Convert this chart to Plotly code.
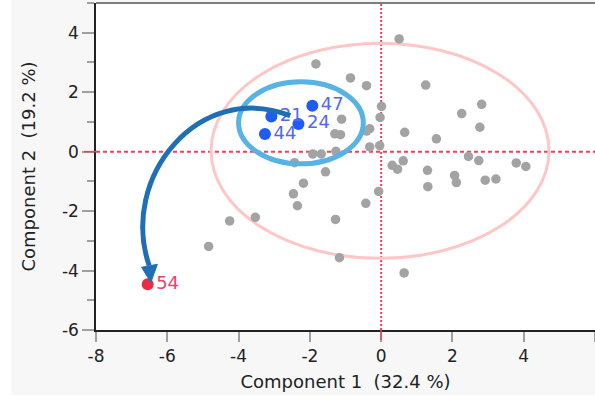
import plotly.graph_objects as go

# ---- data ----
gray_x = [-1.83, 0.505, -0.86, -0.41, 1.25, 0.01, 2.82, -0.03, -1.11, -0.32, -0.41, 2.26,
          2.77, 0.66, 1.55, -1.30, -1.14, -0.32, -0.04, -1.92, -1.68, -1.27, -2.43, -1.56,
          2.45, 2.74, 0.62, 0.31, 0.46, 1.30, 2.06, 2.11, 1.31, 2.92, 3.22, 3.79, 4.06,
          -0.07, -0.43, -2.18, -2.46, -2.35, -1.28, -3.53, -4.25, -4.84, -1.17, 0.645]
gray_y = [2.95, 3.79, 2.48, 2.22, 2.24, 1.52, 1.59, 1.15, 1.09, 0.77, 0.69, 1.28,
          0.82, 0.65, 0.43, 0.60, 0.57, 0.16, 0.20, -0.08, -0.08, 0.01, -0.37, -0.68,
          -0.16, -0.30, -0.31, -0.46, -0.59, -0.63, -0.80, -1.04, -1.18, -0.96, -0.92, -0.38, -0.50,
          -1.34, -1.74, -1.06, -1.42, -1.82, -2.28, -2.21, -2.33, -3.19, -3.57, -4.08]

blue_x = [-1.93, -3.08, -2.32, -3.26]
blue_y = [1.54, 1.18, 0.93, 0.59]
blue_labels = ["47", "21", "24", "44"]

red_x = [-6.55]
red_y = [-4.46]
red_labels = ["54"]

x_ticks = [-8, -6, -4, -2, 0, 2, 4, 6]
y_ticks = [-6, -4, -2, 0, 2, 4]
x_title = "Component 1\u00a0\u00a0(32.4\u00a0%)"
y_title = "Component 2\u00a0\u00a0(19.2\u00a0%)"

# annotation geometry (data units)
pink_ellipse = dict(cx=-0.03, cy=0.03, rx=4.74, ry=3.62)
blue_ellipse = dict(cx=-2.25, cy=0.97, rx=1.75, ry=1.38)
arrow_ctrl = [(-2.55, 1.21), (-5.10, 2.40), (-7.35, -0.85), (-6.51, -3.83)]
arrow_head = [(-6.46, -4.40), (-6.72, -3.89), (-6.28, -3.79)]

FONT = "DejaVu Sans"
W, H = 595, 404
L, R, T, B = 96, 0, 3, 74
PW, PH = W - L - R, H - T - B

fig = go.Figure()
fig.add_trace(go.Scatter(x=gray_x, y=gray_y, mode="markers",
                         marker=dict(size=9.5, color="#A3A3A3"), hoverinfo="skip"))
fig.add_trace(go.Scatter(x=blue_x, y=blue_y, mode="markers+text", text=blue_labels,
                         textposition="middle right",
                         textfont=dict(family=FONT, size=18, color="#4F69EE"),
                         marker=dict(size=12, color="#1F5BF5")))
fig.add_trace(go.Scatter(x=red_x, y=red_y, mode="markers+text", text=red_labels,
                         textposition="middle right",
                         textfont=dict(family=FONT, size=18, color="#EF3F6C"),
                         marker=dict(size=12, color="#EE2A40")))

shapes = []
# pink ellipse (below points)
e = pink_ellipse
shapes.append(dict(type="circle", xref="x", yref="y", layer="below",
                   x0=e["cx"] - e["rx"], x1=e["cx"] + e["rx"],
                   y0=e["cy"] - e["ry"], y1=e["cy"] + e["ry"],
                   line=dict(color="#FFC6C6", width=3)))
# red reference lines
shapes.append(dict(type="line", xref="x", yref="paper", x0=0, x1=0, y0=0, y1=1, layer="below",
                   line=dict(color="#F0405A", width=2, dash="2px,2px")))
shapes.append(dict(type="line", xref="paper", yref="y", x0=0, x1=1, y0=0, y1=0, layer="below",
                   line=dict(color="#F0405A", width=2, dash="4px,3px")))
# red ticks outside
shapes.append(dict(type="line", xref="x", yref="paper", x0=0, x1=0, y0=-10 / PH, y1=0,
                   line=dict(color="#F0405A", width=1.5)))
shapes.append(dict(type="line", xref="paper", yref="y", x0=-12 / PW, x1=0, y0=0, y1=0,
                   line=dict(color="#F0405A", width=1.5)))
# top frame line
shapes.append(dict(type="line", xref="paper", yref="paper", x0=0, x1=1, y0=1, y1=1,
                   line=dict(color="#555555", width=1.5)))
# white strips of the page (left and bottom)
shapes.append(dict(type="rect", xref="paper", yref="paper", layer="below",
                   x0=-L / PW, x1=(11 - L) / PW, y0=-B / PH, y1=(PH + T) / PH,
                   fillcolor="white", line=dict(width=0)))
shapes.append(dict(type="rect", xref="paper", yref="paper", layer="below",
                   x0=-L / PW, x1=1, y0=-B / PH, y1=-(395 - T - PH) / PH,
                   fillcolor="white", line=dict(width=0)))
# blue highlight ellipse
e = blue_ellipse
shapes.append(dict(type="circle", xref="x", yref="y", layer="above",
                   x0=e["cx"] - e["rx"], x1=e["cx"] + e["rx"],
                   y0=e["cy"] - e["ry"], y1=e["cy"] + e["ry"],
                   line=dict(color="#58B3E5", width=5)))
# curved arrow
p = arrow_ctrl
path = "M {},{} C {},{} {},{} {},{}".format(p[0][0], p[0][1], p[1][0], p[1][1],
                                           p[2][0], p[2][1], p[3][0], p[3][1])
shapes.append(dict(type="path", xref="x", yref="y", layer="above", path=path,
                   line=dict(color="#1F6FB6", width=5)))
h = arrow_head
hp = "M {},{} L {},{} L {},{} Z".format(h[0][0], h[0][1], h[1][0], h[1][1], h[2][0], h[2][1])
shapes.append(dict(type="path", xref="x", yref="y", layer="above", path=hp,
                   fillcolor="#1F6FB6", line=dict(color="#1F6FB6", width=1)))

fig.update_layout(
    width=W, height=H, margin=dict(l=L, r=R, t=T, b=B, pad=0, autoexpand=False),
    paper_bgcolor="#F7F7F7", plot_bgcolor="white",
    showlegend=False, shapes=shapes,
    font=dict(family=FONT, color="#222222"),
    xaxis=dict(range=[-8, 6], tickmode="array", tickvals=x_ticks,
               ticktext=[str(v) for v in x_ticks], automargin=False,
               showgrid=False, zeroline=False, showline=True, linecolor="#222222", linewidth=1.5,
               ticks="outside", ticklen=10, tickcolor="#A0A0A0", tickwidth=1.5,
               tickfont=dict(family=FONT, size=17, color="#222222"),
               title=dict(text=x_title, font=dict(family=FONT, size=18, color="#222222"), standoff=10)),
    yaxis=dict(range=[-6, 5], tickmode="array", tickvals=y_ticks,
               ticktext=[str(v) for v in y_ticks], automargin=False,
               showgrid=False, zeroline=False, showline=True, linecolor="#222222", linewidth=1.5,
               ticks="outside", ticklen=12, tickcolor="#A0A0A0", tickwidth=1.5,
               minor=dict(dtick=1, ticks="outside", ticklen=7, tickcolor="#A0A0A0", tickwidth=1.5),
               tickfont=dict(family=FONT, size=17, color="#222222"),
               title=dict(text=y_title, font=dict(family=FONT, size=18, color="#222222"), standoff=22)),
)

fig.write_html("out.html", config={"displayModeBar": False},
               post_script="document.body.style.margin='0';document.body.style.overflow='hidden';")
